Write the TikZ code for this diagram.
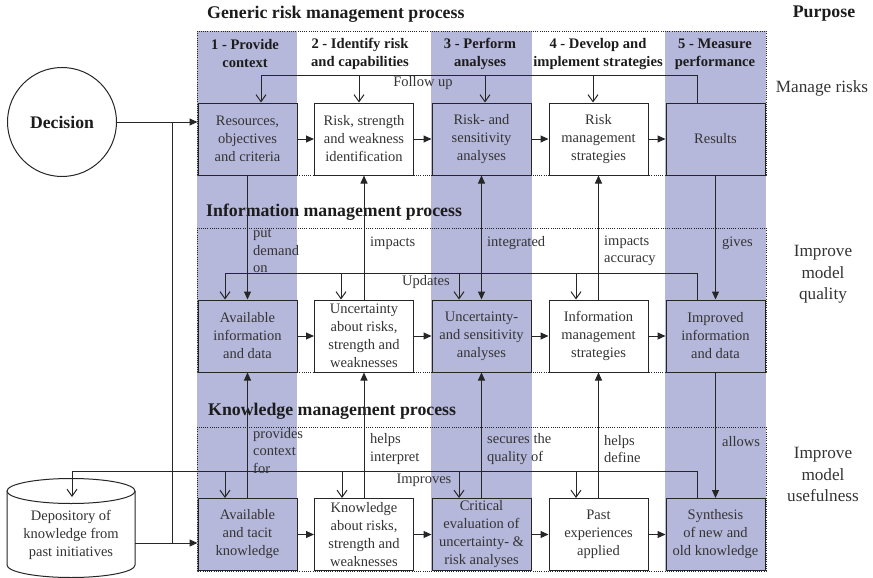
\documentclass[tikz,border=0pt]{standalone}
\usepackage{fontspec}
\setmainfont{Liberation Serif}
\usetikzlibrary{arrows.meta}
\definecolor{bandcol}{RGB}{181,184,219}
\definecolor{inkcol}{RGB}{38,38,38}
\definecolor{txtcol}{RGB}{52,52,52}
\definecolor{headcol}{RGB}{28,28,28}

\begin{document}
\begin{tikzpicture}[x=1pt,y=-1pt,
  every node/.style={text=txtcol},
  frame/.style={draw=inkcol, line width=0.8pt, dash pattern=on 1pt off 1.2pt},
  procbox/.style={draw=inkcol, line width=1pt, minimum width=99pt, minimum height=72pt,
    inner sep=1pt, align=center, font=\fontsize{14.5}{18}\selectfont},
  shadedbox/.style={procbox, fill=bandcol},
  whitebox/.style={procbox, fill=white},
  flow/.style={draw=inkcol, line width=1pt},
  solidtip/.style={flow, -{Triangle[length=8pt,width=7pt]}},
  bothtip/.style={flow, {Triangle[length=8pt,width=7pt]}-{Triangle[length=8pt,width=7pt]}},
  opentip/.style={flow, -{Straight Barb[length=7pt,width=10pt]}},
  linklabel/.style={anchor=west, align=left, inner sep=0pt, font=\fontsize{14.5}{17.5}\selectfont},
  looplabel/.style={inner sep=0pt, font=\fontsize{14.5}{17.5}\selectfont},
  sectitle/.style={anchor=west, inner sep=0pt, text=headcol, font=\bfseries\fontsize{17.8}{21}\selectfont},
  colhead/.style={align=center, inner sep=0pt, text=headcol, font=\bfseries\fontsize{14.6}{18}\selectfont},
  purpose/.style={align=center, inner sep=0pt, font=\fontsize{17.2}{21.6}\selectfont}
]
\useasboundingbox (0,0) rectangle (873,578);

% shaded columns 1, 3 and 5
\fill[bandcol] (197,31) rectangle (297,571);
\fill[bandcol] (431,31) rectangle (532,571);
\fill[bandcol] (665,31) rectangle (766,571);

% dotted frames of the three processes
\draw[frame] (197,31) rectangle (766,175);
\draw[frame] (197,228) rectangle (766,372);
\draw[frame] (197,427) rectangle (766,571);

% section titles
\node[sectitle] (tgen) at (207,14) {Generic risk management process};
\node[sectitle] (tinf) at (206,212) {Information management process};
\node[sectitle] (tkno) at (208,411) {Knowledge management process};
\node[sectitle, anchor=center] (tpur) at (824,14) {Purpose};

% column headers
\node[colhead] (h1) at (245,54) {1 - Provide\\context};
\node[colhead] (h2) at (360,54) {2 - Identify risk\\and capabilities};
\node[colhead] (h3) at (480,54) {3 - Perform\\analyses};
\node[colhead] (h4) at (598,54) {4 - Develop and\\implement strategies};
\node[colhead] (h5) at (715,54) {5 - Measure\\performance};

% purposes
\node[purpose] (pm) at (822,88) {Manage risks};
\node[purpose] (pq) at (823,274.5) {Improve\\model\\quality};
\node[purpose] (pu) at (823,474.5) {Improve\\model\\usefulness};

% generic risk management process
\node[shadedbox] (r1) at (247.5,139) {Resources,\\objectives\\and criteria};
\node[whitebox]  (r2) at (364,139)   {Risk, strength\\and weakness\\identification};
\node[shadedbox] (r3) at (481.5,139) {Risk- and\\sensitivity\\analyses};
\node[whitebox]  (r4) at (598.5,139) {Risk\\management\\strategies};
\node[shadedbox] (r5) at (715.5,139) {Results};

% information management process
\node[shadedbox] (i1) at (247.5,336) {Available\\information\\and data};
\node[whitebox]  (i2) at (364,336)   {Uncertainty\\about risks,\\strength and\\weaknesses};
\node[shadedbox] (i3) at (481.5,336) {Uncertainty-\\and sensitivity\\analyses};
\node[whitebox]  (i4) at (598.5,336) {Information\\management\\strategies};
\node[shadedbox] (i5) at (715.5,336) {Improved\\information\\and data};

% knowledge management process
\node[shadedbox] (k1) at (247.5,534.5) {Available\\and tacit\\knowledge};
\node[whitebox]  (k2) at (364,534.5)   {Knowledge\\about risks,\\strength and\\weaknesses};
\node[shadedbox] (k3) at (481.5,534.5) {Critical\\evaluation of\\uncertainty- \&\\risk analyses};
\node[whitebox]  (k4) at (598.5,534.5) {Past\\experiences\\applied};
\node[shadedbox] (k5) at (715.5,534.5) {Synthesis\\of new and\\old knowledge};

% decision and depository
\node[circle, draw=inkcol, line width=1pt, minimum size=109pt, inner sep=0pt,
  text=headcol, font=\bfseries\fontsize{17.7}{21}\selectfont] (decision) at (62,122) {Decision};
\draw[inkcol, line width=1pt, fill=white] (7,491) -- (7,565)
  arc[start angle=180, end angle=360, x radius=64pt, y radius=12.5pt] -- (135,491);
\draw[inkcol, line width=1pt, fill=white] (71,491) ellipse [x radius=64pt, y radius=12.5pt];
\node[align=center, inner sep=0pt, font=\fontsize{14.5}{18}\selectfont] (depot) at (71,535)
  {Depository of\\knowledge from\\past initiatives};

% flow along each row
\foreach \p in {r,i,k}{
  \draw[solidtip] (\p1) -- (\p2);
  \draw[solidtip] (\p2) -- (\p3);
  \draw[solidtip] (\p3) -- (\p4);
  \draw[solidtip] (\p4) -- (\p5);
}

% inputs from the decision and the depository
\coordinate (dj) at (172,122);
\coordinate (dpE) at (135,543);
\draw[solidtip] (decision.east) -- (decision.east -| r1.west);
\draw[solidtip] (dpE) -- (dpE -| k1.west);
\draw[flow] (dj) -- (dj |- dpE);

% follow up loop
\coordinate (fuR) at (697,76);
\coordinate (fuL) at (261,76);
\coordinate (fu2) at (359,76);
\coordinate (fu3) at (485,76);
\coordinate (fu4) at (593,76);
\draw[opentip] (r5.north -| fuR) -- (fuR) -- (fuL) -- (fuL |- r1.north);
\draw[opentip] (fu2) -- (fu2 |- r2.north);
\draw[opentip] (fu3) -- (fu3 |- r3.north);
\draw[opentip] (fu4) -- (fu4 |- r4.north);
\node[looplabel] (lfu) at (423,83) {Follow up};

% updates loop
\coordinate (upR) at (697,273);
\coordinate (upL) at (225,273);
\coordinate (up2) at (341,273);
\coordinate (up3) at (459,273);
\coordinate (up4) at (576,273);
\draw[opentip] (i5.north -| upR) -- (upR) -- (upL) -- (upL |- i1.north);
\draw[opentip] (up2) -- (up2 |- i2.north);
\draw[opentip] (up3) -- (up3 |- i3.north);
\draw[opentip] (up4) -- (up4 |- i4.north);
\node[looplabel] (lup) at (426,282) {Updates};

% improves loop, back into the depository
\coordinate (imR) at (697,471);
\coordinate (imL) at (72,471);
\coordinate (depTop) at (72,497);
\coordinate (im1) at (225,471);
\coordinate (im2) at (342,471);
\coordinate (im3) at (459,471);
\coordinate (im4) at (576,471);
\draw[opentip] (k5.north -| imR) -- (imR) -- (imL) -- (depTop);
\draw[opentip] (im1) -- (im1 |- k1.north);
\draw[opentip] (im2) -- (im2 |- k2.north);
\draw[opentip] (im3) -- (im3 |- k3.north);
\draw[opentip] (im4) -- (im4 |- k4.north);
\node[looplabel] (lim) at (424,480) {Improves};

% links between generic risk and information processes
\draw[solidtip] (r1.south) -- (i1.north);
\draw[solidtip] (i2.north) -- (r2.south);
\draw[bothtip]  (r3.south) -- (i3.north);
\draw[solidtip] (i4.north) -- (r4.south);
\draw[solidtip] (r5.south) -- (i5.north);
\node[linklabel] (l11) at (253,251) {put\\demand\\on};
\node[linklabel] (l12) at (370,243) {impacts};
\node[linklabel] (l13) at (487,243) {integrated};
\node[linklabel] (l14) at (604,251) {impacts\\accuracy};
\node[linklabel] (l15) at (722,243) {gives};

% links between information and knowledge processes
\draw[solidtip] (k1.north) -- (i1.south);
\draw[solidtip] (k2.north) -- (i2.south);
\draw[solidtip] (k3.north) -- (i3.south);
\draw[solidtip] (k4.north) -- (i4.south);
\draw[solidtip] (i5.south) -- (k5.north);
\node[linklabel] (l21) at (253,451) {provides\\context\\for};
\node[linklabel] (l22) at (370,449) {helps\\interpret};
\node[linklabel] (l23) at (487,449) {secures the\\quality of};
\node[linklabel] (l24) at (604,449) {helps\\define};
\node[linklabel] (l25) at (722,442) {allows};
\end{tikzpicture}
\end{document}
